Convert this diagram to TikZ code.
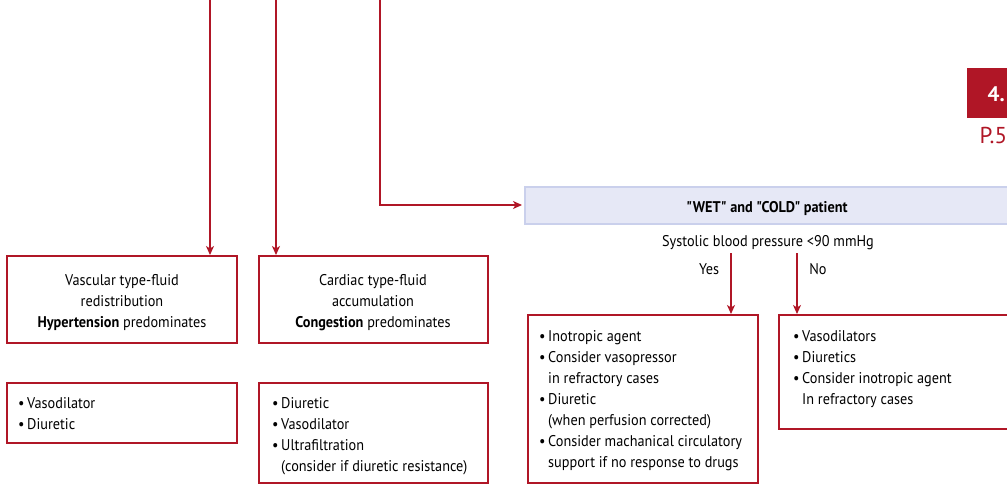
\documentclass[tikz,border=0pt]{standalone}
\usepackage{fontspec}
\setmainfont{PT Sans}[FakeStretch=0.92]
\newfontfamily\plainquotes{PT Sans}[FakeStretch=0.92]
\newfontfamily\tabfont{PT Sans}
\usetikzlibrary{arrows.meta}
\definecolor{hfred}{RGB}{176,22,38}
\definecolor{wetfill}{RGB}{230,232,246}
\definecolor{wetline}{RGB}{202,208,236}
\begin{document}
\begin{tikzpicture}[x=1pt,y=-1pt,
  box/.style={draw=hfred,line width=2.4pt,inner sep=0pt},
  flow/.style={draw=hfred,line width=1.4pt,-{Stealth[length=9pt,width=8pt,inset=2.5pt]}},
  txt/.style={font=\fontsize{15.5}{21}\selectfont,inner sep=0pt},
  list/.style={txt,anchor=base west,align=left},
  ctr/.style={txt,anchor=base,align=center}]
\useasboundingbox (0,0) rectangle (1007,484);
\clip (0,0) rectangle (1007,484);

% chapter tab
\fill[hfred] (967,68) rectangle (1020,118);
\node[anchor=base west,inner sep=0pt,text=white,font=\tabfont\fontsize{21}{21}\selectfont\bfseries] (tabnum) at (987.5,102) {4.};
\node[anchor=base west,inner sep=0pt,text=hfred,font=\tabfont\fontsize{23}{23}\selectfont] (tabpage) at (979.5,144) {P.5};

% boxes
\draw[box] (7,256) rectangle (237,343);
\draw[box] (259,256) rectangle (488,343);
\draw[box] (7,383) rectangle (237,443);
\draw[box] (259,383) rectangle (488,483);
\draw[box] (528,315) rectangle (758,483);
\draw[box] (779,315) rectangle (1030,429);
\draw[fill=wetfill,draw=wetline,line width=1.2pt] (525,187) rectangle (1030,224);

\path (522,205) coordinate (wetIn) (731,314) coordinate (yesEnd) (797,314) coordinate (noEnd)
      (210,0) coordinate (s1) (276,0) coordinate (s2) (380,0) coordinate (s3)
      (731,253) coordinate (yesStart) (797,253) coordinate (noStart);
\coordinate (vascIn) at (210,255);
\coordinate (cardIn) at (276,255);

% box texts (a multi-line node's base is the baseline of its last line)
\node[ctr] (vasc) at (122,327) {Vascular type-fluid\\redistribution\\\textbf{Hypertension} predominates};
\node[ctr] (card) at (373,327) {Cardiac type-fluid\\accumulation\\\textbf{Congestion} predominates};
\node[list] (vascTx) at (18,429) {•\,Vasodilator\\•\,Diuretic};
\node[list] (cardTx) at (272,471) {•\,Diuretic\\•\,Vasodilator\\•\,Ultrafiltration\\\phantom{•\,}(consider if diuretic resistance)};
\node[txt,anchor=base] (wet) at (767,212) {\plainquotes\bfseries "WET" and "COLD" patient};
\node[txt,anchor=base] (sbp) at (768,246) {Systolic blood pressure <90 mmHg};
\node[txt,anchor=base] (yes) at (709,274) {Yes};
\node[txt,anchor=base] (no) at (818,274) {No};
\node[list] (coldTx) at (539,467) {•\,Inotropic agent\\•\,Consider vasopressor\\\phantom{•\,}in refractory cases\\•\,Diuretic\\\phantom{•\,}(when perfusion corrected)\\•\,Consider machanical circulatory\\\phantom{•\,}support if no response to drugs};
\node[list] (warmTx) at (793,404) {•\,Vasodilators\\•\,Diuretics\\•\,Consider inotropic agent\\\phantom{•}\,In refractory cases};

% connectors
\draw[flow] (s1) -- (vascIn);
\draw[flow] (s2) -- (cardIn);
\draw[flow] (s3) |- (wetIn);
\draw[flow] (yesStart) -- (yesEnd);
\draw[flow] (noStart) -- (noEnd);
\end{tikzpicture}
\end{document}
